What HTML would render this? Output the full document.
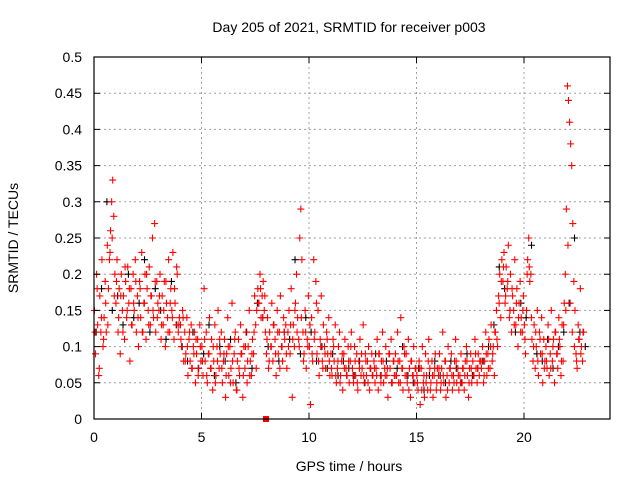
<!DOCTYPE html>
<html><head><meta charset="utf-8"><style>
html,body{margin:0;padding:0;background:#fff;}
svg{display:block;font-family:"Liberation Sans",sans-serif;}
</style></head><body>
<svg id="chart" width="640" height="480" viewBox="0 0 640 480">
<text x="349" y="32" font-size="14" text-anchor="middle">Day 205 of 2021, SRMTID for receiver p003</text>
<text x="349" y="471" font-size="14" text-anchor="middle">GPS time / hours</text>
<text x="18" y="238" font-size="14" text-anchor="middle" transform="rotate(-90 18 238)">SRMTID / TECUs</text>
<g id="grid"></g>
<g id="black"></g>
<g id="red"></g>
<g id="axes"></g>
</svg>
<script>
const xTicks=[0,5,10,15,20];
const yTicks=[0,0.05,0.1,0.15,0.2,0.25,0.3,0.35,0.4,0.45,0.5];
const yTickLabels=["0","0.05","0.1","0.15","0.2","0.25","0.3","0.35","0.4","0.45","0.5"];
const redStart=0.02;
const redStep=0.05;
const redValues=[
0.15,0.09,0.2,0.13,0.06,0.17,0.12,0.22,0.1,0.14,0.19,0.12,0.24,0.18,0.22,0.26,0.3,0.33,0.28,0.2,
0.16,0.22,0.12,0.18,0.09,0.2,0.15,0.17,0.11,0.19,0.14,0.21,0.16,0.08,0.18,0.13,0.2,0.15,0.22,0.12,
0.17,0.1,0.19,0.14,0.23,0.12,0.16,0.2,0.11,0.18,0.15,0.21,0.13,0.17,0.25,0.14,0.27,0.12,0.19,0.16,
0.15,0.2,0.11,0.17,0.13,0.19,0.1,0.16,0.14,0.22,0.12,0.18,0.15,0.23,0.11,0.16,0.13,0.2,0.12,0.14,
0.13,0.1,0.15,0.08,0.12,0.09,0.14,0.06,0.11,0.08,0.13,0.07,0.1,0.12,0.05,0.09,0.11,0.07,0.13,0.08,
0.1,0.06,0.18,0.08,0.12,0.05,0.09,0.14,0.07,0.11,0.04,0.08,0.13,0.06,0.1,0.15,0.07,0.09,0.12,0.05,
0.08,0.11,0.03,0.09,0.14,0.06,0.1,0.07,0.16,0.05,0.09,0.12,0.04,0.08,0.11,0.06,0.13,0.09,0.03,0.1,
0.07,0.12,0.05,0.1,0.15,0.08,0.06,0.11,0.09,0.17,0.13,0.15,0.18,0.16,0.2,0.14,0.17,0.19,0.15,0.12,
0.09,0.14,0.07,0.12,0.1,0.16,0.08,0.13,0.11,0.06,0.15,0.09,0.12,0.17,0.1,0.08,0.14,0.11,0.13,0.07,
0.12,0.15,0.09,0.18,0.03,0.13,0.1,0.16,0.2,0.14,0.11,0.25,0.29,0.22,0.12,0.09,0.15,0.07,0.11,0.17,
0.1,0.02,0.14,0.08,0.22,0.12,0.19,0.09,0.15,0.06,0.11,0.17,0.08,0.13,0.1,0.07,0.12,0.09,0.14,0.06,
0.09,0.06,0.11,0.08,0.13,0.05,0.07,0.1,0.12,0.06,0.08,0.04,0.09,0.11,0.07,0.06,0.1,0.05,0.08,0.12,
0.07,0.05,0.1,0.06,0.09,0.04,0.08,0.11,0.06,0.07,0.13,0.05,0.09,0.06,0.08,0.1,0.04,0.07,0.09,0.06,
0.08,0.05,0.07,0.11,0.04,0.09,0.06,0.08,0.12,0.05,0.07,0.1,0.06,0.03,0.09,0.07,0.11,0.05,0.08,0.06,
0.09,0.06,0.12,0.05,0.08,0.14,0.07,0.04,0.1,0.06,0.09,0.05,0.11,0.07,0.03,0.08,0.06,0.1,0.05,0.07,
0.06,0.04,0.08,0.02,0.07,0.1,0.05,0.03,0.09,0.06,0.04,0.11,0.07,0.05,0.08,0.03,0.06,0.09,0.04,0.07,
0.06,0.09,0.04,0.07,0.12,0.05,0.08,0.03,0.06,0.1,0.05,0.07,0.09,0.04,0.06,0.08,0.11,0.05,0.07,0.04,
0.06,0.09,0.05,0.07,0.04,0.08,0.1,0.06,0.03,0.07,0.09,0.05,0.08,0.06,0.11,0.07,0.05,0.09,0.06,0.08,
0.07,0.1,0.05,0.08,0.12,0.06,0.09,0.11,0.07,0.13,0.08,0.1,0.06,0.12,0.15,0.1,0.17,0.2,0.14,0.22,
0.19,0.23,0.16,0.21,0.18,0.24,0.14,0.2,0.12,0.17,0.15,0.22,0.13,0.18,0.1,0.16,0.19,0.14,0.12,0.17,
0.13,0.09,0.15,0.22,0.25,0.19,0.2,0.11,0.08,0.13,0.07,0.1,0.15,0.06,0.12,0.09,0.14,0.05,0.11,0.08,
0.1,0.07,0.13,0.06,0.09,0.15,0.08,0.11,0.05,0.12,0.09,0.07,0.14,0.1,0.06,0.13,0.08,0.16,0.2,0.29,
0.46,0.44,0.41,0.38,0.35,0.27,0.19,0.15,0.09,0.07,0.13,0.11,0.18,0.1,0.08,0.12
];
const red2Start=0.045;
const red2Step=0.1;
const red2Values=[
0.12,0.18,0.07,0.14,0.11,0.16,0.13,0.23,0.25,0.17,
0.19,0.14,0.17,0.12,0.21,0.15,0.18,0.13,0.16,0.19,
0.14,0.18,0.12,0.16,0.2,0.13,0.17,0.15,0.19,0.14,
0.17,0.13,0.15,0.19,0.12,0.16,0.14,0.18,0.21,0.13,
0.11,0.14,0.08,0.1,0.12,0.07,0.09,0.11,0.06,0.1,
0.08,0.11,0.06,0.09,0.07,0.1,0.05,0.08,0.11,0.07,
0.09,0.06,0.1,0.05,0.08,0.11,0.04,0.07,0.09,0.06,
0.1,0.08,0.06,0.09,0.12,0.07,0.16,0.18,0.14,0.17,
0.11,0.08,0.1,0.13,0.09,0.12,0.07,0.1,0.12,0.09,
0.1,0.13,0.11,0.15,0.12,0.1,0.14,0.08,0.12,0.1,
0.13,0.09,0.11,0.16,0.08,0.1,0.07,0.09,0.11,0.08,
0.07,0.1,0.06,0.08,0.05,0.09,0.07,0.06,0.08,0.1,
0.06,0.08,0.05,0.07,0.09,0.06,0.08,0.05,0.07,0.06,
0.07,0.06,0.09,0.05,0.08,0.06,0.07,0.09,0.05,0.08,
0.06,0.08,0.05,0.07,0.09,0.06,0.04,0.08,0.06,0.07,
0.05,0.07,0.04,0.06,0.05,0.08,0.04,0.06,0.07,0.05,
0.07,0.05,0.06,0.08,0.04,0.07,0.06,0.05,0.08,0.06,
0.05,0.07,0.06,0.08,0.05,0.07,0.06,0.09,0.07,0.08,
0.08,0.06,0.09,0.07,0.1,0.09,0.12,0.11,0.16,0.19,
0.21,0.17,0.19,0.15,0.18,0.13,0.16,0.14,0.12,0.15,
0.11,0.2,0.21,0.14,0.1,0.12,0.08,0.11,0.09,0.07,
0.08,0.11,0.07,0.1,0.12,0.09,0.11,0.08,0.13,0.15,
0.24,0.16,0.12,0.1,0.08,0.11,0.09,0.12
];
const blackStart=0.1;
const blackStep=0.25;
const blackValues=[
0.12,0.18,0.3,0.15,0.17,0.13,0.2,0.14,0.16,0.22,0.12,0.18,0.15,0.11,0.19,0.13,
0.1,0.08,0.12,0.07,0.09,0.13,0.06,0.1,0.08,0.11,0.05,0.09,0.12,0.07,0.16,0.14,
0.1,0.13,0.08,0.12,0.11,0.22,0.09,0.14,0.12,0.08,0.1,0.07,0.09,0.06,0.08,0.07,
0.06,0.08,0.05,0.07,0.09,0.06,0.08,0.05,0.07,0.1,0.06,0.05,0.07,0.04,0.06,0.08,
0.06,0.05,0.08,0.07,0.05,0.09,0.06,0.07,0.08,0.1,0.13,0.21,0.18,0.15,0.12,0.16,
0.14,0.24,0.09,0.08,0.11,0.07,0.1,0.12,0.16,0.25,0.12,0.1
];
const squareTimes=[8];
const squareValues=[0];

const L=94,R=610,T=57,B=419,XMAX=24,YMAX=0.5;
const xs=v=>L+(R-L)*v/XMAX;
const ys=v=>B-(B-T)*v/YMAX;
const NS="http://www.w3.org/2000/svg";
function mk(tag,attrs,parent){const e=document.createElementNS(NS,tag);for(const k in attrs)e.setAttribute(k,attrs[k]);parent.appendChild(e);return e;}
const grid=document.getElementById('grid'),axes=document.getElementById('axes');
xTicks.forEach(t=>{
 const x=xs(t);
 if(t>0){const g=mk('line',{x1:x,y1:T,x2:x,y2:B,stroke:'#a0a0a0','stroke-dasharray':'2,3'},grid);
 
 }
 const tk=mk('path',{d:`M${x},${B}v-6M${x},${T}v6`,stroke:'#000'},axes);
 
 
 const lb=mk('text',{x:x,y:B+23,'font-size':14,'text-anchor':'middle'},axes);lb.textContent=String(t);
 
 
});
yTicks.forEach((t,i)=>{
 const y=ys(t);
 if(t>0&&t<YMAX){const g=mk('line',{x1:L,y1:y,x2:R,y2:y,stroke:'#a0a0a0','stroke-dasharray':'2,3'},grid);
 
 }
 const tk=mk('path',{d:`M${L},${y}h6M${R},${y}h-6`,stroke:'#000'},axes);
 
 
 const lb=mk('text',{x:L-12,y:y+5,'font-size':14,'text-anchor':'end'},axes);lb.textContent=yTickLabels[i];
 
 
});
const frame=mk('rect',{x:L,y:T,width:R-L,height:B-T,fill:'none',stroke:'#000','stroke-width':1.2},axes);


function cross(parent,x,y,color,name){
 const p=mk('path',{d:`M${x-3.5},${y}h7M${x},${y-3.5}v7`,stroke:color,'stroke-width':1.1},parent);
 
 
}
const blackG=document.getElementById('black'),redG=document.getElementById('red');
blackValues.forEach((v,i)=>cross(blackG,xs(blackStart+i*blackStep),ys(v),'#000','black-point'));
redValues.forEach((v,i)=>cross(redG,xs(redStart+i*redStep),ys(v),'#ff0000','red-point'));
red2Values.forEach((v,i)=>cross(redG,xs(red2Start+i*red2Step),ys(v),'#ff0000','red-point'));
squareTimes.forEach((t,i)=>{
 const s=mk('rect',{x:xs(t)-3,y:ys(squareValues[i])-3,width:6,height:6,fill:'#ff0000'},redG);
 
 
});
</script>
</body></html>
